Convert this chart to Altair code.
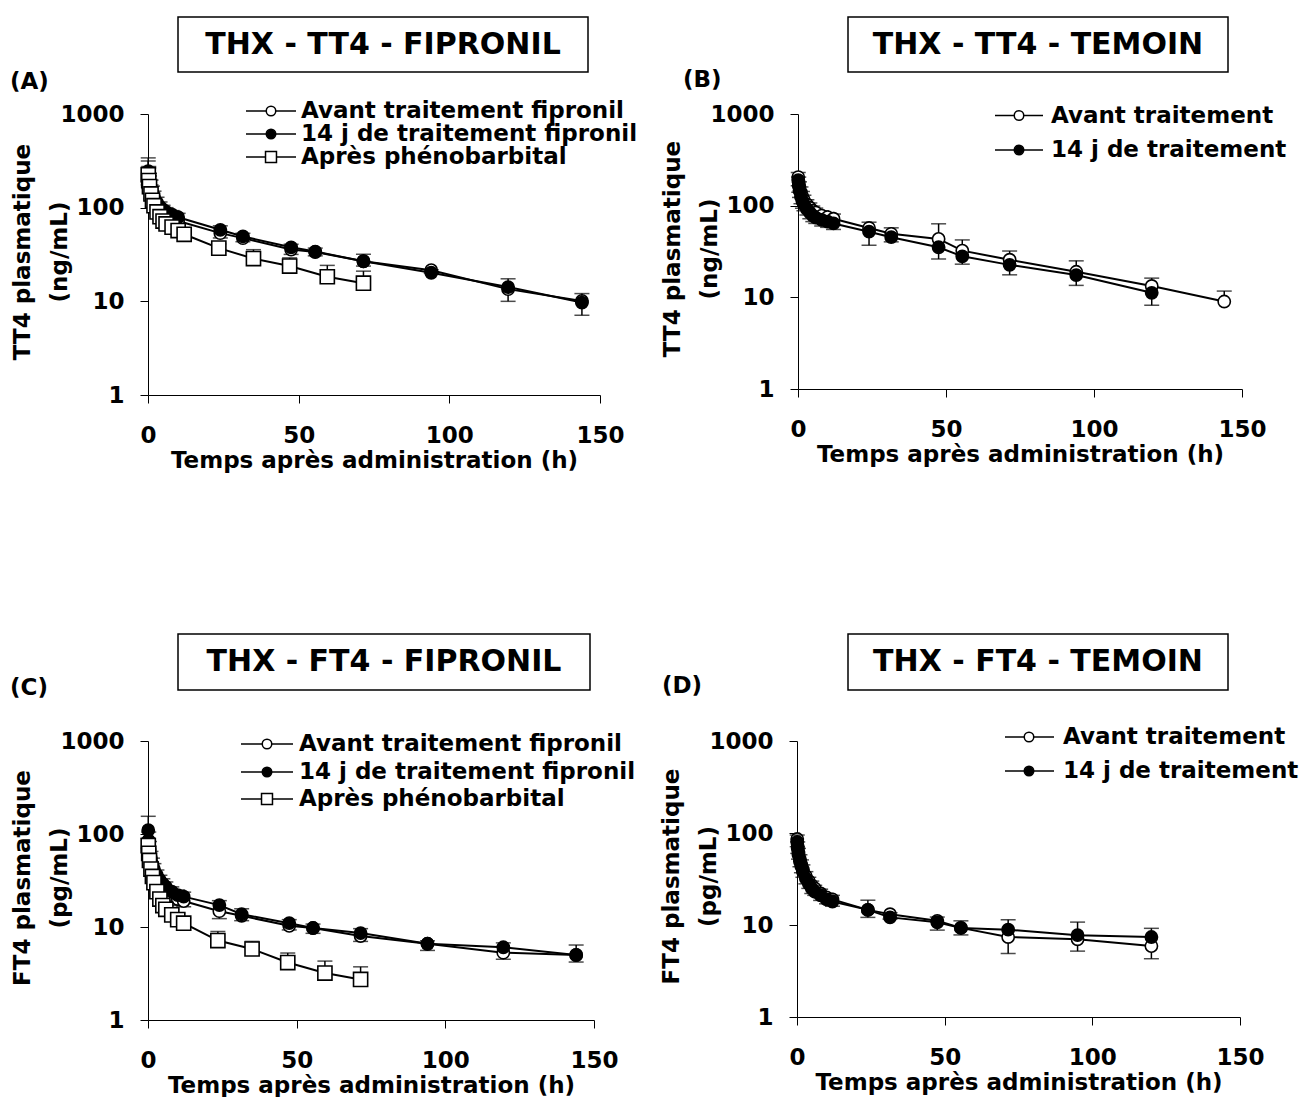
import altair as alt
import pandas as pd

FONT = "DejaVu Sans"

# ---------------- time points (h) ----------------
T_EARLY_A = [0.08, 0.25, 0.5, 1, 1.5, 2, 3, 4, 5, 6, 8, 10]
T_EARLY = [0.08, 0.25, 0.5, 1, 1.5, 2, 3, 4, 5, 6, 8, 10, 12]
T_LATE = [24, 31.5, 47.5, 55.5, 71.5, 94, 119.5, 144]
T_LATE_B2 = [24, 31.5, 47.5, 55.5, 71.5, 94, 119.5]
T_LATE_D = [24, 31.5, 47.5, 55.5, 71.5, 95, 120]
T_PHENO = [23.5, 35, 47, 59.5, 71.5]

# ---------------- (A) THX - TT4 - FIPRONIL ----------------
A_open_v = [235, 205, 180, 155, 135, 122, 108, 98, 92, 86, 78, 72,
            53.5, 47.3, 35.7, 33.6, 26.8, 21.5, 13.5, 10.1]
A_open_e = [60, 45, 38, 30, 25, 20, 16, 13, 11, 10, 9, 8,
            6, 4, 4, 3, 3, 1.5, 3.5, 3]
A_fil_v = [245, 215, 188, 162, 142, 128, 113, 102, 95, 90, 84, 79,
           58, 49.3, 37.7, 34, 26.8, 20.2, 14.2, 9.7]
A_fil_e = [95, 60, 45, 35, 28, 22, 16, 13, 11, 10, 9, 8,
           6, 4, 3, 3, 5, 1.5, 3.2, 2.4]
A_phe_v = [225, 195, 168, 140, 120, 105, 90, 80, 72, 67, 62, 57, 52,
           37, 28.6, 23.8, 18.3, 15.6]
A_phe_e = [90, 70, 50, 35, 25, 18, 12, 10, 8, 7, 6, 5, 5,
           4, 7, 5.3, 5.9, 5.4]

# ---------------- (B) THX - TT4 - TEMOIN ----------------
B_open_v = [205, 180, 160, 140, 125, 115, 103, 95, 88, 84, 78, 75, 72,
            57, 49.3, 43.4, 32.3, 25.7, 19, 13.3, 9.0]
B_open_e = [25, 25, 22, 20, 18, 15, 13, 12, 11, 10, 10, 9, 9,
            9, 8, 20, 10, 6.3, 6, 2.9, 2.7]
B_fil_v = [190, 165, 145, 125, 112, 103, 92, 84, 78, 74, 70, 67, 64,
           52, 45.3, 35.2, 28, 22.6, 17.5, 11.2]
B_fil_e = [25, 25, 22, 20, 18, 15, 13, 12, 11, 10, 10, 9, 9,
           15, 5, 9, 5, 5, 4, 3]

# ---------------- (C) THX - FT4 - FIPRONIL ----------------
C_open_v = [85, 70, 58, 48, 42, 38, 32, 28, 26, 24, 22, 20, 19,
            14.8, 13.2, 10.3, 9.75, 8.0, 6.6, 5.3, 5.0]
C_open_e = [15, 12, 10, 8, 7, 6, 5, 4, 4, 3.5, 3, 3, 2.5,
            2.5, 1.5, 1, 1.2, 1, 1, 0.8, 0.8]
C_fil_v = [110, 85, 68, 55, 47, 42, 36, 32, 29, 27, 24, 22, 21.2,
           17.2, 13.7, 11.0, 9.75, 8.6, 6.6, 6.05, 5.0]
C_fil_e = [45, 20, 15, 10, 8, 6, 5, 4, 4, 3.5, 3, 3, 2.5,
           2, 2, 1, 1, 1, 0.5, 0.7, 1.4]
C_phe_v = [75, 62, 52, 42, 35, 30, 24, 20, 17, 15.5, 13.5, 12, 11,
           7.15, 5.8, 4.15, 3.2, 2.73]
C_phe_e = [15, 12, 10, 8, 6, 5, 4, 3, 3, 2.5, 2, 2, 1.5,
           1.8, 1.2, 1.1, 1.1, 1.0]

# ---------------- (D) THX - FT4 - TEMOIN ----------------
D_open_v = [86, 72, 62, 52, 45, 40, 34, 30, 27, 25, 22, 20, 19,
            14.6, 13.1, 11.1, 9.3, 7.4, 7.0, 5.9]
D_open_e = [15, 12, 10, 9, 8, 7, 6, 5, 5, 4, 3.5, 3, 3,
            2.5, 1.5, 2.3, 1.5, 2.5, 1.8, 1.6]
D_fil_v = [80, 68, 58, 49, 43, 38, 32, 28, 25, 23, 21, 19, 18,
           14.6, 12.1, 10.7, 9.3, 8.9, 7.75, 7.4]
D_fil_e = [15, 12, 10, 9, 8, 7, 6, 5, 5, 4, 3.5, 3, 3,
           4, 1.5, 1.5, 1.8, 2.5, 3, 1.8]

X_TICKS = [0, 50, 100, 150]
Y_TICKS = [1, 10, 100, 1000]
X_TITLE = "Temps après administration (h)"

LEG_FIP = ["Avant traitement fipronil", "14 j de traitement fipronil", "Après phénobarbital"]
LEG_TEM = ["Avant traitement", "14 j de traitement"]

OPEN = dict(shape="circle", fill="white", size=150)
FILLED = dict(shape="circle", fill="black", size=150)
SQUARE = dict(shape="square", fill="white", size=200)


def series_df(t, v, e, direction):
    df = pd.DataFrame({"t": t, "v": v, "e": e})
    if direction == "up":
        df["lo"] = df["v"]
        df["hi"] = df["v"] + df["e"]
        df["cap"] = df["hi"]
    else:
        df["lo"] = df["v"] - df["e"]
        df["hi"] = df["v"]
        df["cap"] = df["lo"]
    return df


XS = alt.Scale(domain=[0, 150], nice=False, zero=False)
YS = alt.Scale(type="log", domain=[1, 1000], nice=False)


def x_axis():
    return alt.Axis(values=X_TICKS, format="d", grid=False, tickSize=8, tickColor="black",
                    domainColor="black", tickWidth=1, domainWidth=1,
                    labelFont=FONT, labelFontSize=23, labelFontWeight="bold", labelColor="black",
                    labelPadding=21, labelFlush=False, labelOverlap=False,
                    title=X_TITLE, titleFont=FONT, titleFontSize=23, titleFontWeight="bold",
                    titleColor="black", titleY=72, titleBaseline="alphabetic")


def y_axis(h, ytitle):
    return alt.Axis(values=Y_TICKS, format="d", grid=False, tickSize=8, tickColor="black",
                    domainColor="black", tickWidth=1, domainWidth=1,
                    labelFont=FONT, labelFontSize=23, labelFontWeight="bold", labelColor="black",
                    labelPadding=16, labelOverlap=False,
                    title=ytitle, titleFont=FONT, titleFontSize=23, titleFontWeight="bold",
                    titleColor="black", titleX=-114, titleY=h / 2 - 3, titleAngle=270,
                    titleAlign="center", titleBaseline="bottom", titleLineHeight=37)


def series_layers(df, style, h, ytitle):
    xa = x_axis()
    ya = y_axis(h, ytitle)
    base = alt.Chart(df)
    x = alt.X("t:Q", scale=XS, axis=xa)
    rule = base.mark_rule(color="black", strokeWidth=1.5).encode(
        x=x, y=alt.Y("lo:Q", scale=YS, axis=ya), y2="hi:Q")
    cap = base.mark_tick(color="black", orient="horizontal", size=15, thickness=1.5).encode(
        x=x, y=alt.Y("cap:Q", scale=YS, axis=ya))
    line = base.mark_line(color="black", strokeWidth=2).encode(
        x=x, y=alt.Y("v:Q", scale=YS, axis=ya))
    pts = base.mark_point(shape=style["shape"], filled=True, fill=style["fill"], stroke="black",
                          strokeWidth=1.6, size=style["size"], opacity=1).encode(
        x=x, y=alt.Y("v:Q", scale=YS, axis=ya))
    return [rule, cap, line, pts]


ONE = pd.DataFrame({"k": [0]})


def legend_layers(labels, styles, lx0, lx1, mx, tx, rows):
    out = []
    for lab, st, ry in zip(labels, styles, rows):
        out.append(alt.Chart(ONE).mark_rule(color="black", strokeWidth=1.5).encode(
            x=alt.value(lx0), x2=alt.value(lx1), y=alt.value(ry)))
        out.append(alt.Chart(ONE).mark_point(shape=st["shape"], filled=True, fill=st["fill"],
                                             stroke="black", strokeWidth=1.5,
                                             size=st["size"] * 0.6, opacity=1).encode(
            x=alt.value(mx), y=alt.value(ry)))
        out.append(alt.Chart(ONE).mark_text(font=FONT, fontSize=23, fontWeight="bold",
                                            align="left", baseline="middle", color="black").encode(
            x=alt.value(tx), y=alt.value(ry), text=alt.value(lab)))
    return out


def decor_layers(title, box, tcenter, letter, lpos):
    x0, x1, y0, y1 = box
    r = alt.Chart(ONE).mark_rect(fill="white", stroke="black", strokeWidth=1.5).encode(
        x=alt.value(x0), x2=alt.value(x1), y=alt.value(y0), y2=alt.value(y1))
    t = alt.Chart(ONE).mark_text(font=FONT, fontSize=30, fontWeight="bold", align="center",
                                 baseline="middle", color="black").encode(
        x=alt.value(tcenter[0]), y=alt.value(tcenter[1]), text=alt.value(title))
    l = alt.Chart(ONE).mark_text(font=FONT, fontSize=23, fontWeight="bold", align="left",
                                 baseline="middle", color="black").encode(
        x=alt.value(lpos[0]), y=alt.value(lpos[1]), text=alt.value(letter))
    return [r, t, l]


def panel(series, ytitle, w, h, decor, legend):
    layers = []
    for df, st in series:
        layers += series_layers(df, st, h, ytitle)
    layers += decor
    layers += legend
    return alt.layer(*layers).properties(width=w, height=h)


# ---------- build panels ----------
A = panel(
    [(series_df(T_EARLY_A + T_LATE, A_open_v, A_open_e, "down"), OPEN),
     (series_df(T_EARLY_A + T_LATE, A_fil_v, A_fil_e, "up"), FILLED),
     (series_df(T_EARLY + T_PHENO, A_phe_v, A_phe_e, "up"), SQUARE)],
    ["TT4 plasmatique", "(ng/mL)"], 452, 281,
    decor_layers("THX - TT4 - FIPRONIL", (30, 440, -97, -42), (235, -69.5), "(A)", (-138, -32)),
    legend_layers(LEG_FIP, [OPEN, FILLED, SQUARE], 98, 148, 123, 153, [-3, 20, 43]))

B = panel(
    [(series_df(T_EARLY + T_LATE, B_open_v, B_open_e, "up"), OPEN),
     (series_df(T_EARLY + T_LATE_B2, B_fil_v, B_fil_e, "down"), FILLED)],
    ["TT4 plasmatique", "(ng/mL)"], 444, 275,
    decor_layers("THX - TT4 - TEMOIN", (50, 430, -97, -42), (240, -69.5), "(B)", (-115, -34)),
    legend_layers(LEG_TEM, [OPEN, FILLED], 197, 245, 221, 253, [1.5, 36]))

C = panel(
    [(series_df(T_EARLY + T_LATE, C_open_v, C_open_e, "down"), OPEN),
     (series_df(T_EARLY + T_LATE, C_fil_v, C_fil_e, "up"), FILLED),
     (series_df(T_EARLY + T_PHENO, C_phe_v, C_phe_e, "up"), SQUARE)],
    ["FT4 plasmatique", "(pg/mL)"], 446, 279,
    decor_layers("THX - FT4 - FIPRONIL", (30, 442, -107, -51), (236, -79), "(C)", (-138, -53)),
    legend_layers(LEG_FIP, [OPEN, FILLED, SQUARE], 93, 145, 119, 151, [3, 31, 58]))

D = panel(
    [(series_df(T_EARLY + T_LATE_D, D_open_v, D_open_e, "down"), OPEN),
     (series_df(T_EARLY + T_LATE_D, D_fil_v, D_fil_e, "up"), FILLED)],
    ["FT4 plasmatique", "(pg/mL)"], 443, 276,
    decor_layers("THX - FT4 - TEMOIN", (51, 431, -107, -51), (241, -79), "(D)", (-135, -55)),
    legend_layers(LEG_TEM, [OPEN, FILLED], 208, 257, 232, 266, [-4, 30]))

row1 = alt.hconcat(A, B, spacing=198, bounds="flush")
row2 = alt.hconcat(C, D, spacing=203, bounds="flush")
chart = alt.vconcat(row1, row2, spacing=627, bounds="flush").properties(
    padding={"left": 2, "top": 8, "right": 0, "bottom": 0}
).configure_view(strokeWidth=0)

chart.save("out.html", embed_options={"renderer": "svg", "actions": False})
